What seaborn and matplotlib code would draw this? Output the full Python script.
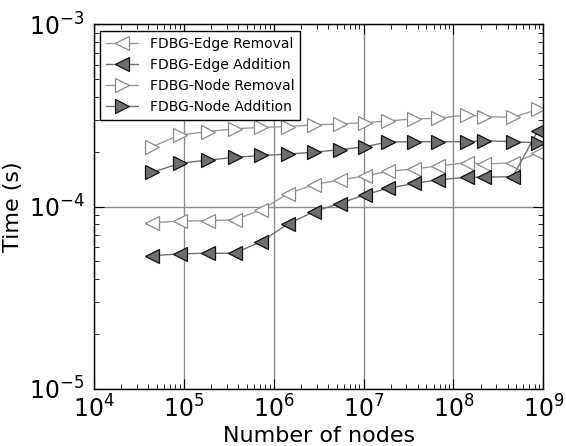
import numpy as np
import pandas as pd
import matplotlib
matplotlib.use("Agg")
import matplotlib.pyplot as plt
import seaborn as sns

nodes = [4.44e4, 9.08e4, 1.84e5, 3.67e5, 7.25e5, 1.45e6, 2.8e6, 5.42e6,
         1.03e7, 1.85e7, 3.66e7, 6.65e7, 1.40e8, 2.2e8, 4.57e8, 8.67e8]

edge_removal = [8.17e-5, 8.32e-5, 8.38e-5, 8.46e-5, 9.59e-5, 1.18e-4, 1.32e-4, 1.40e-4,
                1.47e-4, 1.56e-4, 1.61e-4, 1.67e-4, 1.74e-4, 1.71e-4, 1.74e-4, 1.96e-4]
edge_addition = [5.37e-5, 5.51e-5, 5.55e-5, 5.55e-5, 6.43e-5, 8.04e-5, 9.39e-5, 1.04e-4,
                 1.16e-4, 1.26e-4, 1.34e-4, 1.40e-4, 1.45e-4, 1.45e-4, 1.46e-4, 2.60e-4]
node_removal = [2.13e-4, 2.47e-4, 2.58e-4, 2.67e-4, 2.72e-4, 2.75e-4, 2.81e-4, 2.84e-4,
                2.89e-4, 2.95e-4, 3.03e-4, 3.05e-4, 3.18e-4, 3.12e-4, 3.09e-4, 3.41e-4]
node_addition = [1.54e-4, 1.73e-4, 1.80e-4, 1.86e-4, 1.91e-4, 1.94e-4, 1.99e-4, 2.05e-4,
                 2.13e-4, 2.26e-4, 2.27e-4, 2.27e-4, 2.27e-4, 2.30e-4, 2.27e-4, 2.24e-4]

labels = ["FDBG-Edge Removal", "FDBG-Edge Addition", "FDBG-Node Removal", "FDBG-Node Addition"]
series = [edge_removal, edge_addition, node_removal, node_addition]

sns.set_style("ticks")
plt.rcParams["font.family"] = ["DejaVu Sans"]
plt.rcParams["mathtext.fontset"] = "dejavusans"
plt.rcParams["text.color"] = "black"
plt.rcParams["axes.labelcolor"] = "black"
plt.rcParams["xtick.color"] = "black"
plt.rcParams["ytick.color"] = "black"

fig = plt.figure(figsize=(5.66, 4.46), dpi=100)
ax = fig.add_axes([0.166, 0.128, 0.794, 0.8175])

styles = [
    dict(marker="<", color="#9a9a9a", mfc="white", mec="#8a8a8a"),
    dict(marker="<", color="#707070", mfc="#6e6e6e", mec="#111111"),
    dict(marker=">", color="#9a9a9a", mfc="white", mec="#8a8a8a"),
    dict(marker=">", color="#707070", mfc="#6e6e6e", mec="#111111"),
]

for lab, vals, st in zip(labels, series, styles):
    df = pd.DataFrame({"nodes": nodes, "time": vals})
    sns.lineplot(data=df, x="nodes", y="time", ax=ax, estimator=None, sort=False,
                 label=lab, color=st["color"], marker=st["marker"],
                 markersize=9.5, markerfacecolor=st["mfc"], markeredgecolor=st["mec"],
                 markeredgewidth=0.9, linewidth=1.0, clip_on=True)

ax.set_xscale("log")
ax.set_yscale("log")
ax.set_xlim(1e4, 1e9)
ax.set_ylim(1e-5, 1e-3)

ax.grid(True, which="major", color="#8c8c8c", linewidth=1.0)
ax.tick_params(which="both", direction="in", top=True, right=True, labelsize=17)
ax.tick_params(axis="x", pad=5)
ax.tick_params(axis="y", pad=7)
ax.tick_params(which="major", length=7, width=0.8)
ax.tick_params(which="minor", length=3.5, width=0.6)
for s in ax.spines.values():
    s.set_color("black")
    s.set_linewidth(1.0)

ax.set_xlabel("Number of nodes", fontsize=16, labelpad=2)
ax.set_ylabel("Time (s)", fontsize=16, labelpad=4)

leg = ax.legend(loc="upper left", fontsize=10, frameon=True, fancybox=False,
                edgecolor="black", framealpha=1, handlelength=2.3,
                borderaxespad=0.45, labelspacing=0.5, borderpad=0.45)
leg.get_frame().set_linewidth(1.0)
for t in leg.get_texts():
    t.set_color("black")

fig.savefig("out.png", dpi=100)
